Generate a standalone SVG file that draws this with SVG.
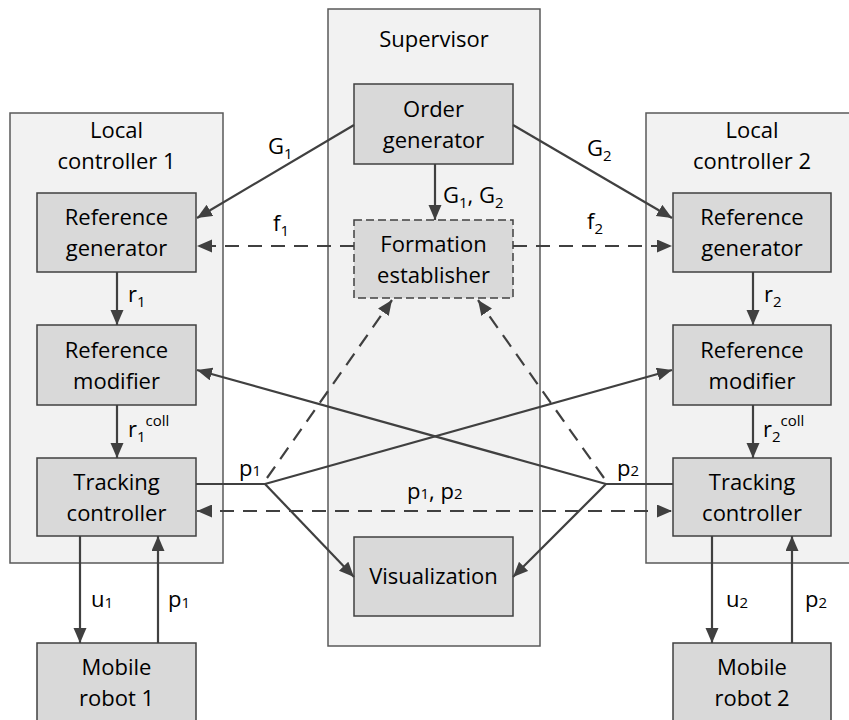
<svg xmlns="http://www.w3.org/2000/svg" width="849" height="720" viewBox="0 0 849 720">
<defs>
<marker id="ah" markerUnits="userSpaceOnUse" markerWidth="16" markerHeight="14" refX="15" refY="6.5" orient="auto">
<path d="M0,0 L15,6.5 L0,13 Z" fill="#404040"/>
</marker>
<marker id="ahs" markerUnits="userSpaceOnUse" markerWidth="16" markerHeight="14" refX="0" refY="6.5" orient="auto">
<path d="M15,0 L0,6.5 L15,13 Z" fill="#404040"/>
</marker>
<style>
.cont{fill:#f2f2f2;stroke:#595959;stroke-width:1.5}
.node{fill:#d9d9d9;stroke:#404040;stroke-width:1.5}
.dnode{fill:#d9d9d9;stroke:#404040;stroke-width:1.5;stroke-dasharray:8 4}
text{font-family:"Open Sans","Liberation Sans",sans-serif;font-size:22px;fill:#000}
.c{text-anchor:middle}
.ln{fill:none;stroke:#404040;stroke-width:2.2}
.da{stroke-dasharray:14 9}
.sub{font-size:15px}
</style>
</defs>
<rect width="849" height="720" fill="#fff"/>

<g id="local1">
<rect class="cont" x="10" y="113" width="213" height="450"/>
<text class="c" x="116.5" y="138">Local</text>
<text class="c" x="116.5" y="169">controller 1</text>
</g>
<g id="supervisor">
<rect class="cont" x="328" y="9" width="212" height="637"/>
<text class="c" x="434" y="47">Supervisor</text>
</g>
<g id="local2">
<rect class="cont" x="646" y="113" width="230" height="450"/>
<text class="c" x="752" y="138">Local</text>
<text class="c" x="752" y="169">controller 2</text>
</g>

<g id="order-generator">
<rect class="node" x="354" y="84" width="159" height="80"/>
<text class="c" x="433.5" y="117">Order</text>
<text class="c" x="433.5" y="148">generator</text>
</g>
<g id="formation-establisher">
<rect class="dnode" x="354" y="220" width="159" height="78"/>
<text class="c" x="433.5" y="252">Formation</text>
<text class="c" x="433.5" y="283">establisher</text>
</g>
<g id="visualization">
<rect class="node" x="354" y="537" width="159" height="79"/>
<text class="c" x="433.5" y="584">Visualization</text>
</g>

<g id="ref-gen-1">
<rect class="node" x="37" y="193" width="159" height="79"/>
<text class="c" x="116.5" y="225">Reference</text>
<text class="c" x="116.5" y="256">generator</text>
</g>
<g id="ref-mod-1">
<rect class="node" x="37" y="325" width="159" height="80"/>
<text class="c" x="116.5" y="358">Reference</text>
<text class="c" x="116.5" y="389">modifier</text>
</g>
<g id="tracking-1">
<rect class="node" x="37" y="458" width="159" height="78"/>
<text class="c" x="116.5" y="490">Tracking</text>
<text class="c" x="116.5" y="521">controller</text>
</g>
<g id="robot-1">
<rect class="node" x="37" y="643" width="159" height="90"/>
<text class="c" x="116.5" y="675">Mobile</text>
<text class="c" x="116.5" y="706">robot 1</text>
</g>

<g id="ref-gen-2">
<rect class="node" x="673" y="193" width="158" height="79"/>
<text class="c" x="752" y="225">Reference</text>
<text class="c" x="752" y="256">generator</text>
</g>
<g id="ref-mod-2">
<rect class="node" x="673" y="325" width="158" height="80"/>
<text class="c" x="752" y="358">Reference</text>
<text class="c" x="752" y="389">modifier</text>
</g>
<g id="tracking-2">
<rect class="node" x="673" y="458" width="158" height="78"/>
<text class="c" x="752" y="490">Tracking</text>
<text class="c" x="752" y="521">controller</text>
</g>
<g id="robot-2">
<rect class="node" x="673" y="643" width="158" height="90"/>
<text class="c" x="752" y="675">Mobile</text>
<text class="c" x="752" y="706">robot 2</text>
</g>

<g id="connectors">
<line class="ln" x1="354" y1="125" x2="197" y2="218" marker-end="url(#ah)"/>
<line class="ln" x1="513" y1="125" x2="672" y2="218" marker-end="url(#ah)"/>
<line class="ln" x1="435" y1="164" x2="435" y2="220" marker-end="url(#ah)"/>
<line class="ln da" x1="354" y1="246" x2="197" y2="246" marker-end="url(#ah)"/>
<line class="ln da" x1="513" y1="246" x2="672" y2="246" marker-end="url(#ah)"/>

<line class="ln" x1="117" y1="272" x2="117" y2="325" marker-end="url(#ah)"/>
<line class="ln" x1="117" y1="405" x2="117" y2="458" marker-end="url(#ah)"/>
<line class="ln" x1="80" y1="536" x2="80" y2="643" marker-end="url(#ah)"/>
<line class="ln" x1="158" y1="643" x2="158" y2="536" marker-end="url(#ah)"/>

<line class="ln" x1="753" y1="272" x2="753" y2="325" marker-end="url(#ah)"/>
<line class="ln" x1="753" y1="405" x2="753" y2="458" marker-end="url(#ah)"/>
<line class="ln" x1="712" y1="536" x2="712" y2="643" marker-end="url(#ah)"/>
<line class="ln" x1="792" y1="643" x2="792" y2="536" marker-end="url(#ah)"/>

<polyline class="ln" points="196,484 265,484"/>
<line class="ln" x1="265" y1="484" x2="672" y2="370" marker-end="url(#ah)"/>
<line class="ln" x1="265" y1="484" x2="354" y2="577" marker-end="url(#ah)"/>
<line class="ln da" x1="267" y1="478" x2="392" y2="300" marker-end="url(#ah)"/>

<polyline class="ln" points="673,484 606,484"/>
<line class="ln" x1="606" y1="484" x2="197" y2="370" marker-end="url(#ah)"/>
<line class="ln" x1="606" y1="484" x2="513" y2="577" marker-end="url(#ah)"/>
<line class="ln da" x1="604" y1="478" x2="478" y2="300" marker-end="url(#ah)"/>

<line class="ln da" x1="197" y1="511" x2="672" y2="511" marker-start="url(#ahs)" marker-end="url(#ah)"/>
</g>

<g id="labels">
<text x="268" y="154">G<tspan class="sub" dy="5">1</tspan></text>
<text x="587" y="156">G<tspan class="sub" dy="5">2</tspan></text>
<text x="443" y="203">G<tspan class="sub" dy="5">1</tspan><tspan dy="-5">, G</tspan><tspan class="sub" dy="5">2</tspan></text>
<text x="273" y="231">f<tspan class="sub" dy="5">1</tspan></text>
<text x="587" y="229">f<tspan class="sub" dy="5">2</tspan></text>
<text x="128" y="302">r<tspan class="sub" dy="5">1</tspan></text>
<text x="764" y="302">r<tspan class="sub" dy="5">2</tspan></text>
<text x="128" y="437">r<tspan class="sub" dy="5">1</tspan><tspan class="sub" dy="-16">coll</tspan></text>
<text x="763" y="437">r<tspan class="sub" dy="5">2</tspan><tspan class="sub" dy="-16">coll</tspan></text>
<text x="239" y="476">p<tspan class="sub" dy="0">1</tspan></text>
<text x="617" y="476">p<tspan class="sub" dy="0">2</tspan></text>
<text x="407" y="499">p<tspan class="sub">1</tspan>, p<tspan class="sub">2</tspan></text>
<text x="91" y="607">u<tspan class="sub" dy="1">1</tspan></text>
<text x="168" y="607">p<tspan class="sub" dy="1">1</tspan></text>
<text x="726" y="607">u<tspan class="sub" dy="1">2</tspan></text>
<text x="805" y="607">p<tspan class="sub" dy="1">2</tspan></text>
</g>
</svg>
